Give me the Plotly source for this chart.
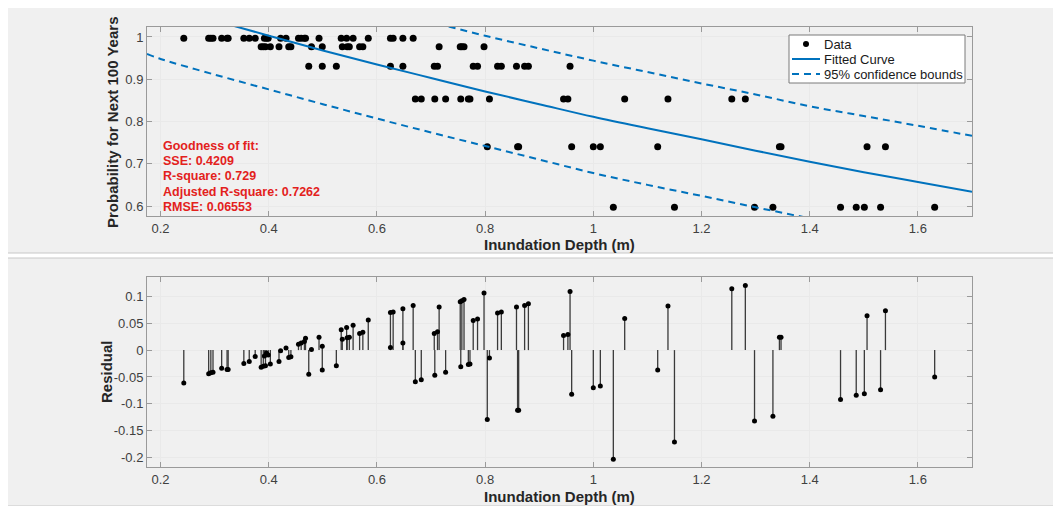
import plotly.graph_objects as go

# ---------------- data ----------------
depth = [0.243, 0.289, 0.293, 0.297, 0.313, 0.323, 0.325, 0.354, 0.364, 0.375, 0.392, 0.396, 0.399, 0.422,
         0.432, 0.455, 0.460, 0.466, 0.468, 0.493, 0.534, 0.544, 0.556, 0.584, 0.625, 0.630, 0.648, 0.667,
         0.386, 0.390, 0.394, 0.403, 0.419, 0.437, 0.441, 0.479, 0.499, 0.536, 0.545, 0.549, 0.568, 0.574,
         0.715, 0.754, 0.757, 0.761, 0.798,
         0.474, 0.499, 0.525, 0.625, 0.648, 0.706, 0.712, 0.778, 0.786, 0.823, 0.830, 0.858, 0.873, 0.880, 0.957,
         0.671, 0.682, 0.707, 0.727, 0.755, 0.769, 0.772, 0.808, 0.945, 0.953, 1.058, 1.138, 1.256, 1.281,
         0.804, 0.860, 0.862, 0.960, 1.000, 1.013, 1.119, 1.344, 1.347, 1.506, 1.540,
         1.037, 1.150, 1.298, 1.332, 1.457, 1.486, 1.501, 1.531, 1.631]

probability = [0.997, 0.997, 0.997, 0.997, 0.997, 0.997, 0.997, 0.997, 0.997, 0.997, 0.997, 0.997, 0.997, 0.997,
               0.997, 0.997, 0.997, 0.997, 0.997, 0.997, 0.997, 0.997, 0.997, 0.997, 0.997, 0.997, 0.997, 0.997,
               0.977, 0.977, 0.977, 0.977, 0.977, 0.977, 0.977, 0.977, 0.977, 0.977, 0.977, 0.977, 0.977, 0.977,
               0.977, 0.977, 0.977, 0.977, 0.977,
               0.931, 0.931, 0.931, 0.931, 0.931, 0.931, 0.931, 0.931, 0.931, 0.931, 0.931, 0.931, 0.931, 0.931, 0.931,
               0.853, 0.853, 0.853, 0.853, 0.853, 0.853, 0.853, 0.853, 0.853, 0.853, 0.853, 0.853, 0.853, 0.853,
               0.740, 0.740, 0.740, 0.740, 0.740, 0.740, 0.740, 0.740, 0.740, 0.740, 0.740,
               0.597, 0.597, 0.597, 0.597, 0.597, 0.597, 0.597, 0.597, 0.597]

residual = [-0.061, -0.044, -0.042, -0.041, -0.034, -0.036, -0.036, -0.025, -0.021, -0.012, -0.011, -0.006, -0.009, -0.001,
            0.004, 0.011, 0.013, 0.016, 0.022, 0.024, 0.038, 0.042, 0.046, 0.056, 0.070, 0.071, 0.077, 0.083,
            -0.032, -0.030, -0.029, -0.026, -0.021, -0.014, -0.0125, 0.001, 0.007, 0.020, 0.023, 0.024, 0.031, 0.033,
            0.080, 0.090, 0.092, 0.094, 0.106,
            -0.045, -0.037, -0.029, 0.005, 0.013, 0.031, 0.034, 0.055, 0.058, 0.069, 0.071, 0.080, 0.083, 0.086, 0.109,
            -0.059, -0.055, -0.047, -0.041, -0.031, -0.027, -0.026, -0.0145, 0.027, 0.029, 0.059, 0.082, 0.114, 0.120,
            -0.129, -0.112, -0.112, -0.082, -0.070, -0.067, -0.037, 0.024, 0.024, 0.064, 0.073,
            -0.203, -0.171, -0.132, -0.123, -0.092, -0.084, -0.081, -0.074, -0.050]

curve_x = [0.175, 0.2, 0.3, 0.4, 0.5, 0.6, 0.7, 0.8, 0.9, 1.0, 1.1, 1.2, 1.3, 1.4, 1.5, 1.6, 1.7]
fitted = [1.086, 1.076, 1.039, 1.003, 0.968, 0.935, 0.903, 0.871, 0.841, 0.811, 0.784, 0.758, 0.731, 0.705, 0.680, 0.657, 0.634]
lower_bound = [0.960, 0.948, 0.911, 0.876, 0.841, 0.807, 0.774, 0.742, 0.710, 0.678, 0.650, 0.624, 0.597, 0.571, 0.546, 0.522, 0.499]
upper_bound = [1.212, 1.203, 1.166, 1.130, 1.096, 1.066, 1.035, 1.003, 0.973, 0.944, 0.917, 0.890, 0.864, 0.836, 0.813, 0.790, 0.766]

x_ticks = [0.2, 0.4, 0.6, 0.8, 1.0, 1.2, 1.4, 1.6]
x_tick_labels = ["0.2", "0.4", "0.6", "0.8", "1", "1.2", "1.4", "1.6"]
top_y_ticks = [0.6, 0.7, 0.8, 0.9, 1.0]
top_y_labels = ["0.6", "0.7", "0.8", "0.9", "1"]
res_y_ticks = [-0.2, -0.15, -0.1, -0.05, 0, 0.05, 0.1]
res_y_labels = ["-0.2", "-0.15", "-0.1", "-0.05", "0", "0.05", "0.1"]

legend_labels = ["Data", "Fitted Curve", "95% confidence bounds"]
stats_lines = ["Goodness of fit:", "SSE: 0.4209", "R-square: 0.729",
               "Adjusted R-square: 0.7262", "RMSE: 0.06553"]

# ---------------- styling ----------------
OFF = 8                      # default page body margin
W, H = 1061 - OFF, 506 - OFF
FONT = "Liberation Sans, Arial, Helvetica, sans-serif"
BLUE = "#0072BD"
DASH = "7px,5px"
AXC = "#9a9a9a"
GRID = "#e9e9e9"
TICKC = "#404040"


def px_x(p):
    return (p - OFF) / W


def px_y(p):
    return 1 - (p - OFF) / H


fig = go.Figure()

# top plot
fig.add_trace(go.Scatter(x=depth, y=probability, mode="markers", name=legend_labels[0],
                         marker=dict(color="black", size=7), xaxis="x", yaxis="y"))
fig.add_trace(go.Scatter(x=curve_x, y=fitted, mode="lines", name=legend_labels[1], line_shape="spline",
                         line=dict(color=BLUE, width=2), xaxis="x", yaxis="y"))
fig.add_trace(go.Scatter(x=curve_x, y=lower_bound, mode="lines", name=legend_labels[2], line_shape="spline",
                         line=dict(color=BLUE, width=2, dash=DASH), xaxis="x", yaxis="y"))
fig.add_trace(go.Scatter(x=curve_x, y=upper_bound, mode="lines", name=legend_labels[2], line_shape="spline",
                         line=dict(color=BLUE, width=2, dash=DASH), xaxis="x", yaxis="y"))

# residual stems
sx, sy = [], []
for d, r in zip(depth, residual):
    sx += [d, d, None]
    sy += [0, r, None]
fig.add_trace(go.Scatter(x=sx, y=sy, mode="lines",
                         line=dict(color="#3a3a3a", width=1.3), xaxis="x2", yaxis="y2"))
fig.add_trace(go.Scatter(x=depth, y=residual, mode="markers",
                         marker=dict(color="black", size=5), xaxis="x2", yaxis="y2"))

x_dom = [px_x(147), px_x(972)]
axis_common = dict(showline=True, linecolor=AXC, linewidth=1, mirror="ticks", ticks="inside", ticklen=5,
                   tickcolor=AXC, showgrid=True, gridcolor=GRID, gridwidth=1, zeroline=False,
                   tickfont=dict(family=FONT, size=13, color=TICKC))

fig.update_layout(
    width=W, height=H,
    margin=dict(l=0, r=0, t=0, b=0),
    paper_bgcolor="white",
    plot_bgcolor="white",
    font=dict(family=FONT, size=13, color=TICKC),
    xaxis=dict(domain=x_dom, anchor="y", range=[0.175, 1.70], tickvals=x_ticks, ticktext=x_tick_labels,
               **axis_common),
    yaxis=dict(domain=[px_y(216), px_y(27)], anchor="x", range=[0.5764, 1.0236], tickvals=top_y_ticks,
               ticktext=top_y_labels, **axis_common),
    xaxis2=dict(domain=x_dom, anchor="y2", range=[0.175, 1.70], tickvals=x_ticks, ticktext=x_tick_labels,
                **axis_common),
    yaxis2=dict(domain=[px_y(467), px_y(277)], anchor="x2", range=[-0.2175, 0.136], tickvals=res_y_ticks,
                ticktext=res_y_labels, **axis_common),
    showlegend=False,
)

# zero line in the residual plot
fig.add_shape(type="line", xref="x2 domain", yref="y2", x0=0, x1=1, y0=0, y1=0,
              line=dict(color="#8c8c8c", width=1), layer="below")

# panel backgrounds
for y0, y1 in [(6, 253), (258, 506)]:
    fig.add_shape(type="rect", xref="paper", yref="paper", x0=px_x(5), x1=px_x(1056), y0=px_y(y1), y1=px_y(y0),
                  fillcolor="#f0f0f0", line=dict(color="#c8c8c8", width=1), layer="below")

# legend (MATLAB style, compact rows)
fig.add_shape(type="rect", xref="paper", yref="paper", x0=px_x(789), x1=px_x(965), y0=px_y(83), y1=px_y(35),
              fillcolor="white", line=dict(color="#7a7a7a", width=1))
fig.add_shape(type="circle", xref="paper", yref="paper", x0=px_x(803), x1=px_x(809), y0=px_y(47), y1=px_y(41),
              fillcolor="black", line=dict(color="black", width=0))
fig.add_shape(type="line", xref="paper", yref="paper", x0=px_x(792), x1=px_x(820), y0=px_y(59), y1=px_y(59),
              line=dict(color=BLUE, width=2))
fig.add_shape(type="line", xref="paper", yref="paper", x0=px_x(792), x1=px_x(820), y0=px_y(74), y1=px_y(74),
              line=dict(color=BLUE, width=2, dash=DASH))
for i, lab in enumerate(legend_labels):
    fig.add_annotation(text=lab, xref="paper", yref="paper", x=px_x(822), y=px_y(44.5 + i * 15),
                       showarrow=False, xanchor="left", yanchor="middle",
                       font=dict(family=FONT, size=13, color="#1a1a1a"))

# axis titles
title_font = dict(family=FONT, size=15, color="#262626")
fig.add_annotation(text="<b>Inundation Depth (m)</b>", xref="paper", yref="paper", x=px_x(559.5), y=px_y(244),
                   showarrow=False, font=title_font, xanchor="center", yanchor="middle")
fig.add_annotation(text="<b>Inundation Depth (m)</b>", xref="paper", yref="paper", x=px_x(559.5), y=px_y(496),
                   showarrow=False, font=title_font, xanchor="center", yanchor="middle")
fig.add_annotation(text="<b>Probability for Next 100 Years</b>", xref="paper", yref="paper", x=px_x(113),
                   y=px_y(122), showarrow=False, font=title_font, textangle=-90, xanchor="center", yanchor="middle")
fig.add_annotation(text="<b>Residual</b>", xref="paper", yref="paper", x=px_x(106), y=px_y(372),
                   showarrow=False, font=title_font, textangle=-90, xanchor="center", yanchor="middle")

# goodness of fit text
for i, line in enumerate(stats_lines):
    fig.add_annotation(text="<b>" + line + "</b>", xref="paper", yref="paper", x=px_x(161),
                       y=px_y(146 + i * 15.2), showarrow=False, xanchor="left", yanchor="middle",
                       font=dict(family=FONT, size=12.5, color="#e3211c"))

fig.write_html("out.html")
